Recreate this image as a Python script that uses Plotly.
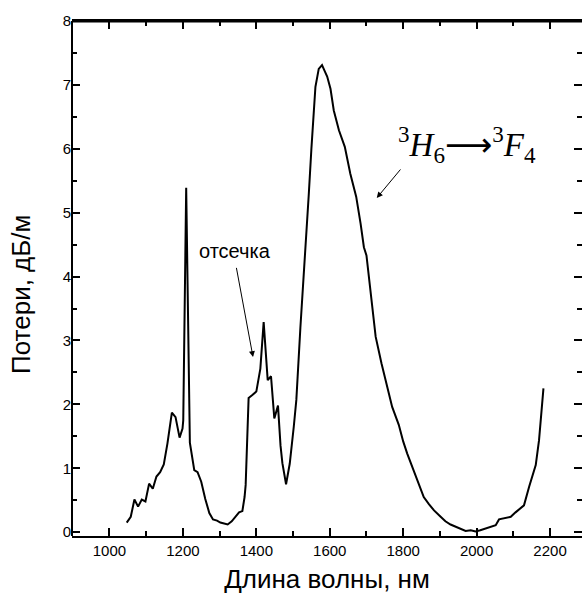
import plotly.graph_objects as go

wavelength_nm = [1047, 1058, 1068, 1078, 1088, 1098, 1108, 1118, 1128, 1138, 1148, 1158,
                 1170, 1180, 1191, 1199, 1201, 1209, 1219, 1231, 1240, 1250, 1261, 1272,
                 1282, 1293, 1302, 1313, 1322, 1333, 1343, 1353, 1362, 1368, 1371, 1379,
                 1390, 1400, 1411, 1420, 1431, 1440, 1449, 1459, 1466, 1471, 1481, 1491,
                 1502, 1509, 1520, 1525, 1535, 1543, 1550, 1556, 1561, 1570, 1579, 1586,
                 1593, 1602, 1611, 1625, 1641, 1656, 1672, 1684, 1693, 1700, 1711, 1725,
                 1741, 1752, 1758, 1770, 1788, 1800, 1811, 1834, 1856, 1870, 1884, 1902,
                 1915, 1929, 1947, 1960, 1970, 1984, 1997, 2010, 2020, 2038, 2052, 2061,
                 2075, 2093, 2106, 2120, 2129, 2143, 2155, 2161, 2170, 2176, 2182]
loss_db_per_m = [0.15, 0.24, 0.51, 0.40, 0.51, 0.48, 0.76, 0.68, 0.87, 0.94, 1.06, 1.39,
                 1.87, 1.80, 1.48, 1.62, 1.75, 5.39, 1.40, 0.97, 0.94, 0.79, 0.52, 0.30,
                 0.20, 0.18, 0.15, 0.14, 0.12, 0.17, 0.25, 0.31, 0.33, 0.55, 0.74, 2.10,
                 2.15, 2.20, 2.56, 3.29, 2.38, 2.44, 1.78, 1.98, 1.35, 1.08, 0.75, 1.07,
                 1.65, 2.07, 3.20, 3.63, 4.50, 5.30, 6.00, 6.50, 6.97, 7.25, 7.31, 7.22,
                 7.13, 6.94, 6.60, 6.29, 6.03, 5.61, 5.25, 4.83, 4.46, 4.33, 3.74, 3.06,
                 2.64, 2.38, 2.25, 1.96, 1.68, 1.42, 1.23, 0.87, 0.55, 0.44, 0.34, 0.24,
                 0.17, 0.12, 0.08, 0.04, 0.02, 0.03, 0.01, 0.03, 0.05, 0.09, 0.11, 0.20,
                 0.22, 0.24, 0.31, 0.37, 0.42, 0.71, 0.95, 1.05, 1.44, 1.85, 2.25]

x_range = [898, 2287]
y_range = [-0.06, 8]
x_title = "Длина волны, нм"
y_title = "Потери, дБ/м"
cutoff_label = "отсечка"
transition_label = ("<sup>3</sup><i>H</i><sub>6</sub>"
                    "<span style='font-family:DejaVu Sans'>⟶</span>"
                    "<sup>3</sup><i>F</i><sub>4</sub>")

SANS = "Liberation Sans, Arial"
INK = "black"

fig = go.Figure()
fig.add_trace(go.Scatter(x=wavelength_nm, y=loss_db_per_m, mode="lines",
                         line=dict(color="black", width=2), showlegend=False))

major = dict(ticks="inside", ticklen=8, tickwidth=2, tickcolor=INK)
minor_x = dict(ticks="inside", dtick=100, tick0=0, ticklen=5, tickwidth=2, tickcolor=INK)
minor_y = dict(ticks="inside", dtick=0.5, tick0=0, ticklen=5, tickwidth=2, tickcolor=INK)

fig.update_layout(
    xaxis=dict(range=x_range, tickmode="linear", tick0=0, dtick=200,
               showline=True, linecolor=INK, linewidth=2, mirror="allticks",
               showgrid=False, zeroline=False,
               tickfont=dict(family=SANS, size=15, color="black"),
               minor=minor_x,
               title=dict(text=x_title, font=dict(family=SANS, size=26, color="black"),
                          standoff=12),
               **major),
    yaxis=dict(range=y_range, tickmode="linear", tick0=0, dtick=1,
               showline=False, mirror="ticks", showgrid=False, zeroline=False,
               tickfont=dict(family=SANS, size=15, color="black"),
               minor=minor_y, **major),
)

# left and top frame lines (the right frame line lies outside the picture in the reference)
fig.add_shape(type="line", xref="paper", yref="paper", x0=0, x1=0, y0=0, y1=1,
              line=dict(color=INK, width=2))
fig.add_shape(type="line", xref="paper", yref="y", x0=0, x1=1, y0=8, y1=8,
              line=dict(color=INK, width=3))

fig.add_annotation(x=-0.1, y=0.468, xref="paper", yref="paper", text=y_title,
                   textangle=-90, showarrow=False, xanchor="center", yanchor="middle",
                   font=dict(family=SANS, size=26, color="black"))

fig.add_annotation(x=1342, y=4.40, xref="x", yref="y", text=cutoff_label, showarrow=False,
                   font=dict(family=SANS, size=20, color="black"))
fig.add_annotation(x=1391, y=2.74, ax=1345, ay=4.16, xref="x", yref="y", axref="x", ayref="y",
                   text="", showarrow=True, arrowhead=2, arrowsize=1.2, arrowwidth=1,
                   arrowcolor="black")
fig.add_annotation(x=1974, y=6.06, xref="x", yref="y", text=transition_label, showarrow=False,
                   font=dict(family="Liberation Serif, Times New Roman", size=33, color="black"))
fig.add_annotation(x=1728, y=5.23, ax=1796, ay=5.70, xref="x", yref="y", axref="x", ayref="y",
                   text="", showarrow=True, arrowhead=2, arrowsize=1.2, arrowwidth=1,
                   arrowcolor="black")

fig.update_layout(width=582, height=601, margin=dict(l=72, r=0, t=21, b=65),
                  plot_bgcolor="white", paper_bgcolor="white")

fig.write_html("out.html")
